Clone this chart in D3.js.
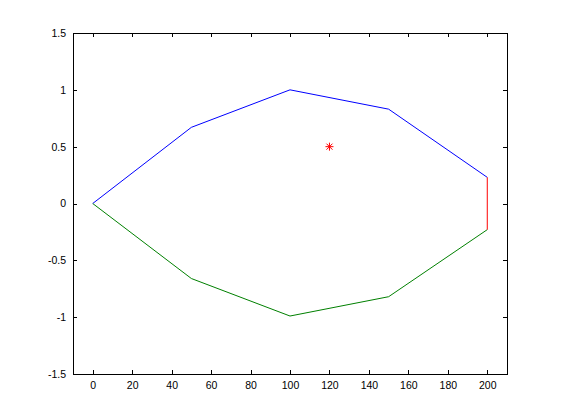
<!DOCTYPE html>
<html><head><meta charset="utf-8">
<script src="https://cdn.jsdelivr.net/npm/d3@7"></script>
<style>body{margin:0;background:#fff;} svg{display:block;}</style>
</head><body>
<svg id="c" width="561" height="420"></svg>
<script>
const xs = [0, 50, 100, 150, 200];
const upperY = [0, 0.67, 1, 0.83, 0.23];
const lowerY = [0, -0.66, -0.99, -0.82, -0.23];
const edgeX = [200, 200];
const edgeY = [0.23, -0.23];
const pointX = [120];
const pointY = [0.5];
const xTicks = [0,20,40,60,80,100,120,140,160,180,200];
const yTicks = [-1.5,-1,-0.5,0,0.5,1,1.5];

const svg = d3.select("#c");
const L = 73, R = 507, T = 33, B = 374;
const x = d3.scaleLinear().domain([-10, 210]).range([L, R]);
const y = d3.scaleLinear().domain([-1.5, 1.5]).range([B, T]);

const font = "Liberation Sans, Arial, sans-serif";
const tickLen = 4;

function styleAxis(g, hideText) {
  g.select(".domain").remove();
  g.selectAll(".tick line").attr("stroke", "#000").attr("stroke-width", 1).attr("shape-rendering","crispEdges");
  g.selectAll(".tick text").attr("font-family", font).attr("font-size", 10.5).attr("fill", "#000");
  if (hideText) g.selectAll(".tick text").remove();
}
const fmt = d => String(d);
svg.append("g").attr("transform", `translate(0,${B})`)
  .call(d3.axisBottom(x).tickValues(xTicks).tickFormat(fmt).tickSizeInner(-tickLen).tickPadding(8))
  .call(g => styleAxis(g, false));
svg.append("g").attr("transform", `translate(0,${T})`)
  .call(d3.axisTop(x).tickValues(xTicks).tickSizeInner(-tickLen))
  .call(g => styleAxis(g, true));
svg.append("g").attr("transform", `translate(${L},0)`)
  .call(d3.axisLeft(y).tickValues(yTicks).tickFormat(fmt).tickSizeInner(-tickLen).tickPadding(7))
  .call(g => styleAxis(g, false));
svg.append("g").attr("transform", `translate(${R},0)`)
  .call(d3.axisRight(y).tickValues(yTicks).tickSizeInner(-tickLen))
  .call(g => styleAxis(g, true));

svg.append("rect").attr("x", L + 0.5).attr("y", T + 0.5).attr("width", R - L).attr("height", B - T)
  .attr("fill", "none").attr("stroke", "#000").attr("stroke-width", 1);

const line = d3.line().x(d => x(d[0])).y(d => y(d[1]));
svg.append("path").datum(xs.map((v,i)=>[v, upperY[i]])).attr("d", line)
  .attr("fill","none").attr("stroke","#0000ff").attr("stroke-width",1);
svg.append("path").datum(xs.map((v,i)=>[v, lowerY[i]])).attr("d", line)
  .attr("fill","none").attr("stroke","#008000").attr("stroke-width",1);
svg.append("path").datum(edgeX.map((v,i)=>[v, edgeY[i]])).attr("d", line)
  .attr("fill","none").attr("stroke","#ff0000").attr("stroke-width",1);

const s = 4, d2 = 3;
pointX.forEach((px, i) => {
  const cx = x(px), cy = y(pointY[i]);
  const g = svg.append("g").attr("stroke", "#ff0000").attr("stroke-width", 1);
  g.append("line").attr("x1", cx - s).attr("x2", cx + s).attr("y1", cy).attr("y2", cy);
  g.append("line").attr("x1", cx).attr("x2", cx).attr("y1", cy - s).attr("y2", cy + s);
  g.append("line").attr("x1", cx - d2).attr("x2", cx + d2).attr("y1", cy - d2).attr("y2", cy + d2);
  g.append("line").attr("x1", cx - d2).attr("x2", cx + d2).attr("y1", cy + d2).attr("y2", cy - d2);
});
</script>
</body></html>
